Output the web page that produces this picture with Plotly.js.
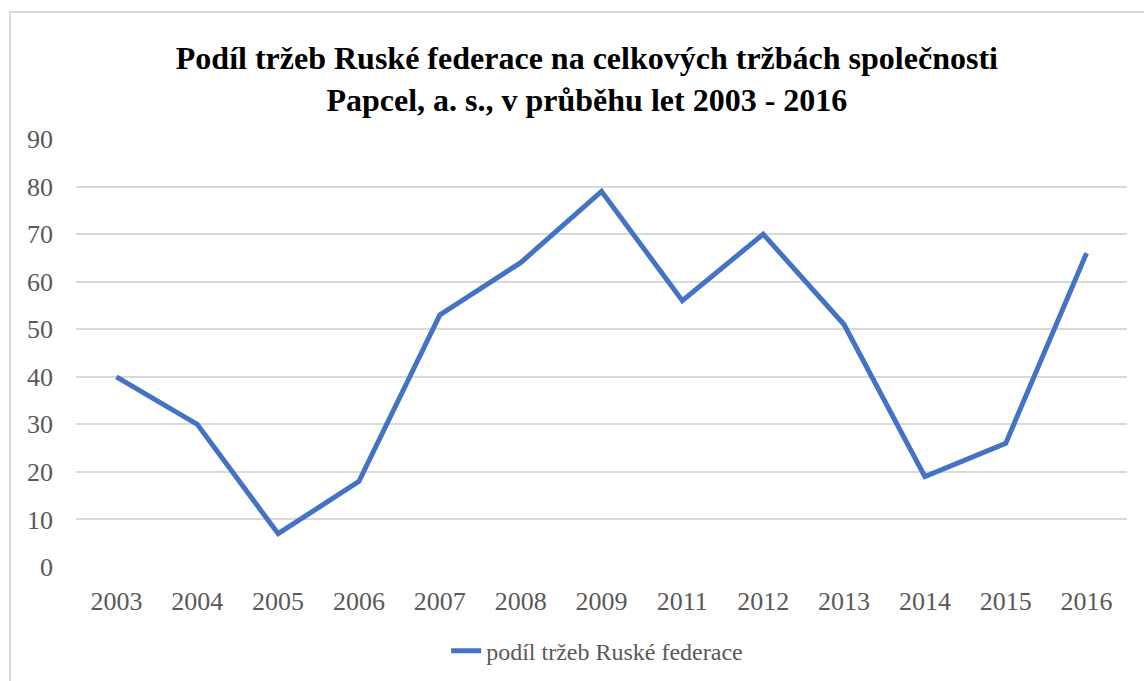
<!DOCTYPE html>
<html>
<head>
<meta charset="utf-8">
<script src="https://cdn.plot.ly/plotly-3.0.1.min.js"></script>
<style>
html,body{margin:0;padding:0;background:#fff;}
#wrap{position:relative;width:1144px;height:681px;overflow:hidden;}
#chart{width:1144px;height:681px;}
#frame{position:absolute;left:9px;top:11px;width:1200px;height:720px;border:2px solid #d9d9d9;pointer-events:none;}
</style>
</head>
<body>
<div id="wrap"><div id="chart"></div><div id="frame"></div></div>
<script>
const years = ['2003','2004','2005','2006','2007','2008','2009','2011','2012','2013','2014','2015','2016'];
const shares = [40, 30, 7, 18, 53, 64, 79, 56, 70, 51, 19, 26, 66];
const seriesName = 'podíl tržeb Ruské federace';
const titleText = 'Podíl tržeb Ruské federace na celkových tržbách společnosti<br>Papcel, a. s., v průběhu let 2003 - 2016';

const serif = 'Times New Roman, Liberation Serif, DejaVu Serif, serif';

Plotly.newPlot('chart', [{
  type: 'scatter',
  mode: 'lines',
  x: years,
  y: shares,
  name: seriesName,
  line: {color: '#4472C4', width: 5, shape: 'linear'},
  showlegend: true
}], {
  width: 1144,
  height: 681,
  margin: {l: 76, r: 17, t: 139, b: 114},
  paper_bgcolor: '#fff',
  plot_bgcolor: '#fff',
  font: {family: serif},
  title: {
    text: titleText,
    font: {family: serif, size: 32, color: '#000', weight: 'bold'},
    x: 0.513, xanchor: 'center',
    y: 0.898, yanchor: 'top'
  },
  xaxis: {
    type: 'category',
    range: [-0.5, 12.5],
    automargin: false,
    showgrid: false,
    zeroline: false,
    showline: false,
    ticks: '',
    ticklabelstandoff: 16,
    tickfont: {family: serif, size: 26, color: '#595959'}
  },
  yaxis: {
    range: [0, 90],
    dtick: 10,
    tick0: 0,
    automargin: false,
    showgrid: true,
    gridcolor: '#d9d9d9',
    gridwidth: 2,
    zeroline: false,
    showline: false,
    ticks: '',
    ticklabelstandoff: 22,
    tickfont: {family: serif, size: 26, color: '#595959'}
  },
  showlegend: true,
  legend: {
    orientation: 'h',
    xref: 'container', yref: 'container',
    x: 0.522, xanchor: 'center',
    y: 0.044, yanchor: 'middle',
    font: {family: serif, size: 24, color: '#595959'},
    bgcolor: 'rgba(0,0,0,0)'
  }
}, {displayModeBar: false, staticPlot: true});
</script>
</body>
</html>
